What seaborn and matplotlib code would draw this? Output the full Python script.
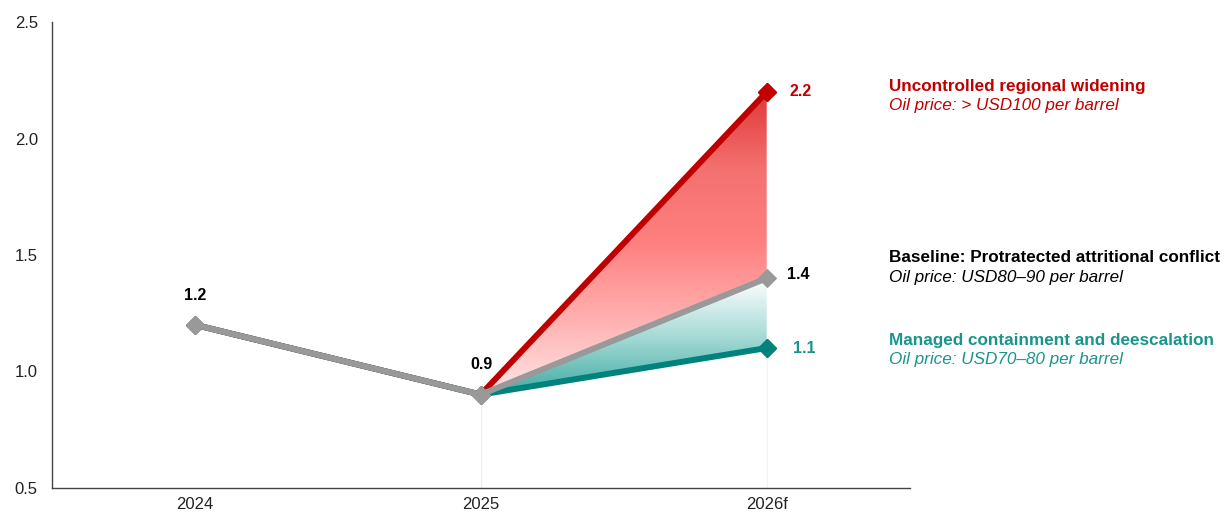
import matplotlib
matplotlib.use("Agg")
import matplotlib.pyplot as plt
import seaborn as sns
import numpy as np
import pandas as pd
from matplotlib.colors import LinearSegmentedColormap

# data
years = ["2024", "2025", "2026f"]
uncontrolled = [1.2, 0.9, 2.2]
baseline = [1.2, 0.9, 1.4]
managed = [1.2, 0.9, 1.1]

scenario_titles = ["Uncontrolled regional widening",
                   "Baseline: Protratected attritional conflict",
                   "Managed containment and deescalation"]
scenario_notes = ["Oil price: > USD100 per barrel",
                  "Oil price: USD80\u201390 per barrel",
                  "Oil price: USD70\u201380 per barrel"]

RED = "#c00000"
GREY = "#999999"
TEAL = "#00837d"
TEAL_TXT = "#1a948c"

sns.set_theme(style="white")
plt.rcParams["font.family"] = ["Liberation Sans", "DejaVu Sans"]

fig = plt.figure(figsize=(12.31, 5.15), dpi=100)
ax = fig.add_axes([0.042, 0.053, 0.697, 0.904])

x = np.arange(len(years))
df = pd.DataFrame({"x": np.tile(x, 3),
                   "val": uncontrolled + baseline + managed,
                   "scen": ["red"] * 3 + ["grey"] * 3 + ["teal"] * 3})

# gradient fills between scenario lines
def grad_fill(y_top, y_bot, colors):
    xs = x[1:]
    top = np.array(y_top[1:])
    bot = np.array(y_bot[1:])
    poly = ax.fill_between(xs, bot, top, facecolor="none", edgecolor="none")
    cmap = LinearSegmentedColormap.from_list("g", colors)
    grad = np.linspace(1, 0, 256).reshape(-1, 1)
    im = ax.imshow(grad, cmap=cmap, aspect="auto", vmin=0, vmax=1,
                   extent=[xs[0], xs[-1], bot.min(), top.max()],
                   origin="upper", zorder=1)
    im.set_clip_path(poly.get_paths()[0], transform=ax.transData)

grad_fill(uncontrolled, baseline, ["#ffe6e6", "#ffb0b0", "#ff8080", "#f47070", "#e03838"])
grad_fill(baseline, managed, ["#40aba3", "#a6dad6", "#ffffff"])

# faint drop lines
ax.vlines(x[1], 0.5, baseline[1], color="#e6f0f0", lw=0.8, zorder=0.5)
ax.vlines(x[2], 0.5, managed[2], color="#eef3f3", lw=0.8, zorder=0.5)

for scen, col, z in [("red", RED, 3), ("teal", TEAL, 3), ("grey", GREY, 4)]:
    sub = df[df["scen"] == scen]
    sns.lineplot(data=sub, x="x", y="val", ax=ax, color=col, lw=4.3,
                 marker="D", markersize=9.5, markeredgecolor=col,
                 zorder=z, legend=False)

# 2026f markers for red/teal on top
ax.plot(x[2], uncontrolled[2], marker="D", ms=9.5, color=RED, zorder=5)
ax.plot(x[2], managed[2], marker="D", ms=9.5, color=TEAL, zorder=5)

# value labels
kw = dict(fontsize=11.5, fontweight="bold", ha="center", va="center")
ax.text(x[0], 1.324, f"{baseline[0]:.1f}", color="black", **kw)
ax.text(x[1] + 0.003, 1.028, f"{baseline[1]:.1f}", color="black", **kw)
ax.text(x[2] + 0.12, uncontrolled[2], f"{uncontrolled[2]:.1f}", color=RED, **kw)
ax.text(x[2] + 0.11, baseline[2] + 0.014, f"{baseline[2]:.1f}", color="black", **kw)
ax.text(x[2] + 0.13, managed[2] - 0.003, f"{managed[2]:.1f}", color=TEAL_TXT, **kw)

# scenario labels
lab_x = 2.427
for title, note, col, yt, yn in zip(scenario_titles, scenario_notes,
                                     [RED, "black", TEAL_TXT],
                                     [2.225, 1.487, 1.131],
                                     [2.144, 1.401, 1.049]):
    ax.text(lab_x, yt, title, color=col, fontsize=12.3, fontweight="bold",
            ha="left", va="center", clip_on=False)
    ax.text(lab_x, yn, note, color=col, fontsize=12.3, fontstyle="italic",
            ha="left", va="center", clip_on=False)

ax.set_xlim(-0.5, 2.5)
ax.set_ylim(0.5, 2.5)
ax.set_xticks(x)
ax.set_xticklabels(years)
ax.set_yticks([0.5, 1.0, 1.5, 2.0, 2.5])
ax.set_yticklabels(["0.5", "1.0", "1.5", "2.0", "2.5"])
ax.tick_params(axis="both", labelsize=12, length=0, colors="#222222")
ax.tick_params(axis="y", pad=10)
ax.tick_params(axis="x", pad=7)
ax.set_xlabel("")
ax.set_ylabel("")
for s in ["top", "right"]:
    ax.spines[s].set_visible(False)
for s in ["left", "bottom"]:
    ax.spines[s].set_color("#444444")
    ax.spines[s].set_linewidth(1.0)

fig.savefig("out.png", dpi=100)
